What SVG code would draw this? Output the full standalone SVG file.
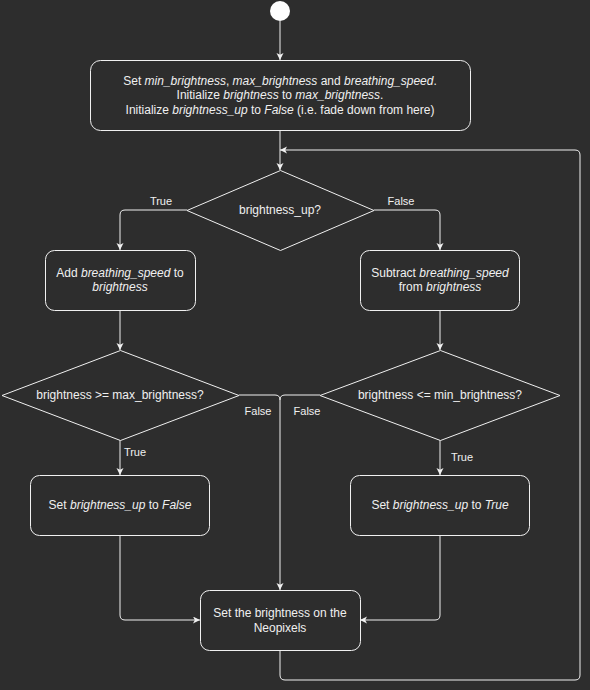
<svg xmlns="http://www.w3.org/2000/svg" width="590" height="690" viewBox="0 0 590 690">
<defs>
<marker id="arr" markerWidth="8" markerHeight="8" refX="7" refY="3.5" orient="auto" markerUnits="userSpaceOnUse">
<path d="M0,0 L7,3.5 L0,7 L1.8,3.5 z" fill="#f0f0f0"/>
</marker>
<style>
.shape{fill:#2d2d2d;stroke:#f0f0f0;stroke-width:1}
.edge{fill:none;stroke:#f0f0f0;stroke-width:1}
text{font-family:"Liberation Sans",Arial,Helvetica,sans-serif;fill:#f0f0f0;font-size:12px;text-anchor:middle}
.lbl{font-size:11px}
.i{font-style:italic}
</style>
</defs>
<rect x="0" y="0" width="590" height="690" fill="#2d2d2d"/>
<g id="connectors">
<path class="edge" d="M280,21 V60" marker-end="url(#arr)"/>
<path class="edge" d="M280,130 V170" marker-end="url(#arr)"/>
<path class="edge" d="M187,210 H125 Q120,210 120,215 V250" marker-end="url(#arr)"/>
<path class="edge" d="M374,210 H435 Q440,210 440,215 V250" marker-end="url(#arr)"/>
<path class="edge" d="M120,310 V350" marker-end="url(#arr)"/>
<path class="edge" d="M440,310 V350" marker-end="url(#arr)"/>
<path class="edge" d="M120,440 V475" marker-end="url(#arr)"/>
<path class="edge" d="M440,440 V475" marker-end="url(#arr)"/>
<path class="edge" d="M239,395 H275 Q280,395 280,400 V590" marker-end="url(#arr)"/>
<path class="edge" d="M320,395 H285 Q280,395 280,400"/>
<path class="edge" d="M120,535 V615 Q120,620 125,620 H200" marker-end="url(#arr)"/>
<path class="edge" d="M440,535 V615 Q440,620 435,620 H360" marker-end="url(#arr)"/>
<path class="edge" d="M280,650 V675 Q280,680 285,680 H575 Q580,680 580,675 V155 Q580,150 575,150 H280" marker-end="url(#arr)"/>
<text class="lbl" x="161" y="205">True</text>
<text class="lbl" x="401" y="205">False</text>
<text class="lbl" x="258" y="415">False</text>
<text class="lbl" x="307" y="415">False</text>
<text class="lbl" x="135" y="456">True</text>
<text class="lbl" x="462" y="461">True</text>
</g>
<g id="start">
<circle cx="280" cy="11" r="10" fill="#ffffff" stroke="none"/>
</g>
<g id="init">
<rect class="shape" x="90.5" y="60.5" width="380" height="70" rx="10"/>
<text x="280" y="85">Set <tspan class="i">min_brightness</tspan>, <tspan class="i">max_brightness</tspan> and <tspan class="i">breathing_speed</tspan>.</text>
<text x="280" y="99">Initialize <tspan class="i">brightness</tspan> to <tspan class="i">max_brightness</tspan>.</text>
<text x="280" y="114">Initialize <tspan class="i">brightness_up</tspan> to <tspan class="i">False</tspan> (i.e. fade down from here)</text>
</g>
<g id="dec_up">
<polygon class="shape" points="280.5,170.5 374,210.5 280.5,250.5 187,210.5"/>
<text x="280" y="214">brightness_up?</text>
</g>
<g id="add">
<rect class="shape" x="45.5" y="250.5" width="150" height="60" rx="9"/>
<text x="120" y="277"><tspan>Add </tspan><tspan class="i">breathing_speed</tspan> to</text>
<text x="120" y="291" class="i">brightness</text>
</g>
<g id="sub">
<rect class="shape" x="360.5" y="250.5" width="159" height="60" rx="9"/>
<text x="440" y="277">Subtract <tspan class="i">breathing_speed</tspan></text>
<text x="440" y="291">from <tspan class="i">brightness</tspan></text>
</g>
<g id="dec_max">
<polygon class="shape" points="120.5,350.5 239,395.5 120.5,440.5 2,395.5"/>
<text x="120" y="399">brightness &gt;= max_brightness?</text>
</g>
<g id="dec_min">
<polygon class="shape" points="440.5,350.5 560,395.5 440.5,440.5 320,395.5"/>
<text x="440" y="399">brightness &lt;= min_brightness?</text>
</g>
<g id="set_false">
<rect class="shape" x="30.5" y="475.5" width="179" height="60" rx="9"/>
<text x="120" y="509">Set <tspan class="i">brightness_up</tspan> to <tspan class="i">False</tspan></text>
</g>
<g id="set_true">
<rect class="shape" x="350.5" y="475.5" width="179" height="60" rx="9"/>
<text x="440" y="509">Set <tspan class="i">brightness_up</tspan> to <tspan class="i">True</tspan></text>
</g>
<g id="neopixels">
<rect class="shape" x="200.5" y="590.5" width="160" height="60" rx="9"/>
<text x="280" y="617">Set the brightness on the</text>
<text x="280" y="632">Neopixels</text>
</g>
</svg>
